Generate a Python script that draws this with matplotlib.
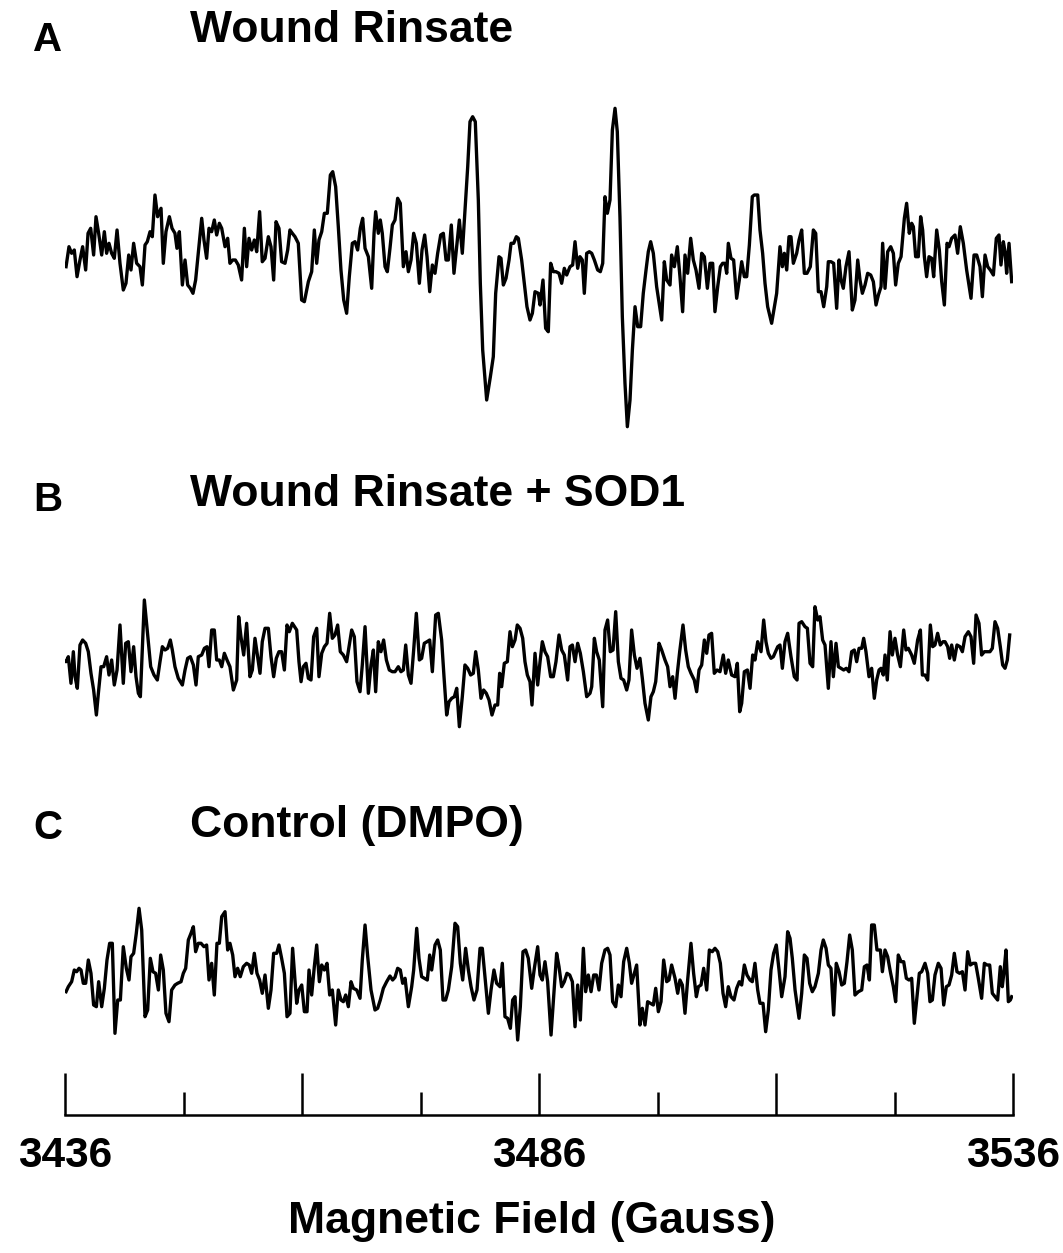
import matplotlib
matplotlib.use("Agg")
import matplotlib.pyplot as plt
from matplotlib.ticker import FixedLocator

plt.rcParams['font.family'] = ['Liberation Sans', 'DejaVu Sans']
plt.rcParams['font.weight'] = 'bold'

# ---------------- data ----------------
panel_letters = ["A", "B", "C"]
panel_titles = ["Wound Rinsate", "Wound Rinsate + SOD1", "Control (DMPO)"]
x_label = "Magnetic Field (Gauss)"
field_min, field_max = 3436, 3536
major_ticks = [3436, 3461, 3486, 3511, 3536]
major_labels = ["3436", "", "3486", "", "3536"]
minor_ticks = [3448.5, 3473.5, 3498.5, 3523.5]

field_a = [3436.11,3436.42,3436.70,3436.98,3437.27,3437.58,3437.86,3438.18,3438.43,3438.71,3439.02,3439.27,3439.55,3439.87,3440.15,3440.39,3440.64,3440.92,3441.20,3441.49,3441.80,3442.15,3442.43,3442.72,3442.96,3443.24,3443.56,3443.91,3444.16,3444.44,3444.68,3444.97,3445.21,3445.49,3445.77,3446.13,3446.37,3446.65,3447.01,3447.29,3447.60,3447.81,3448.06,3448.38,3448.66,3448.94,3449.22,3449.50,3449.78,3450.06,3450.42,3450.66,3450.94,3451.19,3451.47,3451.75,3452.00,3452.28,3452.53,3452.88,3453.16,3453.40,3453.69,3453.97,3454.28,3454.63,3454.92,3455.16,3455.41,3455.69,3455.97,3456.22,3456.53,3456.81,3457.10,3457.45,3457.73,3458.01,3458.26,3458.57,3458.85,3459.21,3459.49,3459.73,3459.98,3460.26,3460.61,3460.96,3461.25,
           3461.67,3462.02,3462.30,3462.55,3462.79,3463.08,3463.36,3463.67,3463.99,3464.24,3464.55,3464.83,3465.11,3465.40,3465.71,3465.99,3466.31,3466.59,3466.87,3467.15,3467.40,3467.65,3468.00,3468.35,3468.60,3468.77,3469.05,3469.26,3469.47,3469.76,3470.00,3470.28,3470.53,3470.81,3471.09,3471.37,3471.69,3471.97,3472.22,3472.50,3472.78,3473.06,3473.38,3473.66,3473.94,3474.19,3474.47,3474.75,3475.03,3475.31,3475.63,3475.91,3476.19,3476.44,3476.75,3477.03,3477.32,3477.60,3477.91,3478.19,3478.48,3478.72,3479.00,3479.28,3479.60,3479.81,3480.06,3480.48,3480.87,3481.18,3481.43,3481.78,3481.99,3482.24,3482.52,3482.84,3483.05,3483.33,3483.61,3483.82,3484.17,3484.45,3484.73,3485.05,3485.30,
           3485.58,3485.93,3486.11,3486.42,3486.70,3486.98,3487.23,3487.51,3487.79,3488.11,3488.39,3488.67,3488.92,3489.27,3489.55,3489.80,3490.08,3490.32,3490.57,3490.78,3491.03,3491.31,3491.56,3491.84,3492.19,3492.47,3492.72,3492.96,3493.21,3493.49,3493.74,3494.02,3494.26,3494.54,3494.79,3495.07,3495.32,3495.60,3495.85,3496.13,3496.41,3496.72,3497.00,3497.29,3497.53,3497.78,3498.06,3498.41,3498.94,3499.22,3499.47,3499.82,3499.99,3500.28,3500.59,3500.87,3501.15,3501.40,3501.68,3502.00,3502.28,3502.56,3502.88,3503.16,3503.44,3503.76,3504.04,3504.32,3504.56,3504.85,3505.13,3505.37,3505.62,3505.80,3505.97,3506.25,3506.53,3506.85,3507.13,3507.38,3507.66,3507.91,3508.19,3508.50,3508.71,3509.07,3509.31,3509.59,3509.84,3510.12,3510.54,
           3511.07,3511.42,3511.67,3511.88,3512.13,3512.37,3512.58,3512.83,3513.18,3513.43,3513.71,3513.99,3514.27,3514.62,3514.94,3515.19,3515.47,3515.75,3516.03,3516.35,3516.52,3516.80,3517.08,3517.40,3517.65,3517.86,3518.10,3518.38,3518.70,3519.05,3519.33,3519.62,3519.86,3520.11,3520.39,3520.67,3520.99,3521.27,3521.55,3521.80,3522.08,3522.25,3522.50,3522.78,3523.10,3523.38,3523.62,3523.90,3524.19,3524.54,3524.78,3525.06,3525.31,3525.49,3525.73,3526.01,3526.26,3526.47,3526.65,3526.89,3527.14,3527.42,3527.63,3527.95,3528.23,3528.48,3528.76,3529.04,3529.25,3529.53,3529.88,3530.16,3530.44,3530.76,3531.11,3531.57,3531.89,3532.17,3532.52,3532.77,3533.05,3533.33,3533.61,3533.93,3534.24,3534.52,3534.73,3534.98,3535.16,3535.33,3535.58,3535.86]
int_a = [-6.7,13.3,6.7,10,-16.7,0,13.3,-10,26.7,31.7,5,43.3,26.7,5,28.3,6.7,16.7,6.7,1.7,30,-3.3,-30,-23.3,5,-10,16.7,-3.3,-6.7,-25,15,18.3,28.3,23.3,65,43.3,51.7,-3.3,28.3,43.3,31.7,26.7,11.7,28.3,-25,0,-25,-28.3,-33.3,-20,6.7,41.7,20,1.7,31.7,28.3,40,25,36.7,31.7,13.3,21.7,-3.3,0,0,-5,-20,31.7,-6.7,21.7,10,20,8.3,48.3,-1.7,1.7,23.3,13.3,-20,38.3,31.7,-1.7,-3.3,10,30,26.7,23.3,16.7,-40,-41.7,
         -21.7,-11.7,30,-3.3,20,28.3,46.7,46.7,85,88.3,73.3,33.3,-10,-40,-53.3,-16.7,16.7,18.3,10,31.7,41.7,11.7,3.3,-28.3,26.7,48.3,26.7,40,26.7,-6.7,-11.7,11.7,35,40,61.7,56.7,-6.7,8.3,-11.7,0,26.7,16.7,-23.3,10,25,3.3,-31.7,-5,-13.3,6.7,25,26.7,0,0,35,-13.3,13.3,40,6.7,50,93.3,138.3,143.3,138.3,60,-23.3,-90,-140,-116.7,-96.7,-33.3,3.3,1.7,-25,-18.3,0,16.7,16.7,23.3,21.7,0,-23.3,-46.7,-60,-53.3,
         -31.7,-33.3,-45,-20,-68.3,-71.7,-3.3,-11.7,-11.7,-13.3,-23.3,-8.3,-15,-6.7,-5,18.3,-8.3,3.3,0,-33.3,6.7,8.3,6.7,0,-10,-11.7,-3.3,63.3,46.7,60,130,151.7,128.3,43.3,-56.7,-123.3,-166.7,-140,-90,-46.7,-66.7,-66.7,-33.3,-10,8.3,18.3,6.7,-26.7,-60,-1.7,-20,-25,5,-6.7,13.3,-16.7,-51.7,5,-13.3,21.7,0,-10,-28.3,6.7,3.3,-28.3,-3.3,-3.3,-51.7,-26.7,-6.7,-3.3,-3.3,-13.3,16.7,1.7,0,-38.3,-20,-1.7,-16.7,-16.7,15,63.3,65,65,30,6.7,-23.3,-46.7,-63.3,
         -33.3,13.3,-6.7,6.7,-10,23.3,23.3,-3.3,6.7,20,30,-13.3,-13.3,-6.7,30,26.7,-31.7,-31.7,-46.7,-26.7,-1.7,-1.7,-3.3,-48.3,0,-20,-28.3,-6.7,8.3,-50,-40,0,-20,-33.3,-25,-13.3,-15,-21.7,-45,-35,-26.7,16.7,-28.3,8.3,13.3,6.7,-25,-3.3,3.3,41.7,56.7,26.7,36.7,33.3,3.3,3.3,43.3,30,3.3,-16.7,3.3,1.7,-16.7,30,10,-21.7,-45,16.7,13.3,21.7,25,6.7,33.3,16.7,-10,-38.3,5,5,-6.7,-36.7,5,-6.7,-10,-15,21.7,25,-5,18.3,8.3,-13.3,16.7,-21.7]

field_b = [3435.82,3436.11,3436.35,3436.63,3436.88,3437.06,3437.30,3437.58,3437.86,3438.18,3438.46,3438.74,3439.02,3439.31,3439.52,3439.80,3440.08,3440.39,3440.64,3440.92,3441.20,3441.49,3441.80,3442.15,3442.40,3442.68,3442.96,3443.24,3443.49,3443.74,3443.95,3444.37,3444.72,3445.04,3445.39,3445.74,3446.02,3446.27,3446.55,3446.83,3447.11,3447.32,3447.60,3447.95,3448.38,3448.66,3448.94,3449.22,3449.54,3449.82,3450.06,3450.42,3450.70,3450.98,3451.19,3451.47,3451.75,3452.00,3452.28,3452.53,3452.81,3453.09,3453.40,3453.76,3454.11,3454.32,3454.56,3454.85,3455.16,3455.51,3455.76,3456.04,3456.32,3456.57,3456.81,3457.10,3457.45,3457.73,3458.01,3458.29,3458.57,3458.85,3459.14,3459.42,3459.66,3459.98,
           3460.44,3460.68,3460.90,3461.14,3461.42,3461.67,3461.95,3462.23,3462.55,3462.79,3463.08,3463.36,3463.64,3463.92,3464.20,3464.48,3464.76,3465.04,3465.36,3465.71,3465.96,3466.24,3466.52,3466.80,3467.12,3467.36,3467.65,3468.00,3468.28,3468.53,3468.77,3469.05,3469.33,3469.61,3469.90,3470.21,3470.53,3470.81,3471.16,3471.44,3471.69,3471.94,3472.22,3472.50,3472.78,3473.06,3473.38,3473.62,3473.90,3474.19,3474.47,3474.75,3475.10,3475.38,3475.73,3475.98,3476.26,3476.51,3476.79,3477.07,3477.32,3477.60,3477.91,3478.19,3478.48,3478.79,3479.07,3479.32,3479.60,3479.88,3480.16,3480.44,3480.73,3481.04,3481.36,3481.64,3481.85,3482.06,3482.34,3482.66,3482.94,3483.19,3483.47,3483.71,3484.00,3484.28,3484.52,3484.77,3485.05,3485.26,
           3485.58,3485.86,3486.11,3486.35,3486.63,3486.91,3487.23,3487.51,3487.79,3488.11,3488.39,3488.67,3489.02,3489.27,3489.52,3489.80,3490.08,3490.36,3490.68,3491.03,3491.38,3491.56,3491.84,3492.08,3492.36,3492.72,3492.96,3493.24,3493.52,3493.81,3494.09,3494.37,3494.65,3494.93,3495.25,3495.49,3495.77,3496.06,3496.34,3496.65,3496.90,3497.18,3497.53,3497.81,3498.06,3498.31,3498.66,3498.94,3499.29,3499.57,3499.82,3500.10,3500.35,3500.59,3500.84,3501.19,3501.47,3501.75,3502.03,3502.38,3502.63,3502.88,3503.16,3503.44,3503.69,3503.93,3504.21,3504.49,3504.78,3505.09,3505.44,3505.69,3505.97,3506.32,3506.67,3506.92,3507.17,3507.38,3507.66,3507.98,3508.26,3508.54,3508.78,3509.07,3509.42,3509.70,3509.94,3510.19,3510.47,3510.72,
           3511.18,3511.42,3511.67,3511.95,3512.23,3512.58,3512.93,3513.22,3513.43,3513.71,3514.06,3514.31,3514.59,3514.87,3515.11,3515.40,3515.64,3515.92,3516.17,3516.52,3516.80,3517.05,3517.33,3517.58,3517.86,3518.14,3518.42,3518.70,3518.98,3519.26,3519.51,3519.76,3520.04,3520.25,3520.49,3520.81,3521.09,3521.37,3521.62,3521.87,3522.08,3522.32,3522.50,3522.74,3523.03,3523.27,3523.55,3523.83,3524.12,3524.47,3524.71,3524.96,3525.31,3525.59,3525.94,3526.23,3526.44,3526.72,3527.00,3527.28,3527.53,3527.77,3528.05,3528.33,3528.62,3528.83,3529.11,3529.32,3529.53,3529.81,3530.09,3530.41,3530.66,3530.94,3531.29,3531.57,3531.85,3532.10,3532.41,3532.69,3532.98,3533.26,3533.57,3533.82,3534.10,3534.38,3534.66,3534.91,3535.16,3535.40,3535.65]
int_b = [0,-1.7,3.3,-23.3,8.3,-16.7,-28.3,15,20,16.7,8.3,-13.3,-30,-55,-33.3,-6.7,-6.7,3.3,-15,0,-25,-10,35,-23.3,16.7,18.3,-11.7,13.3,-16.7,-33.3,-36.7,60,25,-6.7,-15,-20,-1.7,13.3,10,11.7,20,10,-6.7,-18.3,-25,-10,1.7,3.3,-5,-25,3.3,5,11.7,13.3,-6.7,30,30,0,0,-6.7,6.7,0,-6.7,-30,-20,43.3,23.3,5,36.7,-16.7,-10,21.7,3.3,-13.3,18.3,31.7,31.7,3.3,-16.7,1.7,8.3,8.3,-10,35,28.3,36.7,
         30,-1.7,-21.7,-6.7,-3.3,-18.3,-20,23.3,31.7,-16.7,6.7,13.3,16.7,46.7,21.7,25,35,8.3,5,-1.7,13.3,30,23.3,-21.7,-31.7,-5,33.3,-33.3,-5,10,-31.7,18.3,8.3,20,0,-10,-11.7,-11.7,-6.7,-11.7,-10,15,-15,-23.3,10,46.7,0,1.7,16.7,18.3,20,-11.7,45,46.7,20,-16.7,-55,-41.7,-38.3,-36.7,-28.3,-66.7,-36.7,-5,-8.3,-15,-13.3,8.3,-10,-38.3,-30,-33.3,-40,-55,-45,-45,-13.3,-26.7,-3.3,-1.7,28.3,13.3,20,35,31.7,21.7,-1.7,-15,-21.7,-45,
         6.7,-25,-1.7,18.3,8.3,3.3,-16.7,-16.7,-1.7,25,10,5,-20,13.3,15,-1.7,16.7,6.7,-11.7,-36.7,-33.3,-26.7,21.7,8.3,0,-46.7,30,40,8.3,10,48.3,-1.7,-18.3,-20,-30,-20,30,5,-8.3,1.7,-18.3,-43.3,-60,-36.7,-31.7,-21.7,16.7,10,0,-6.7,-26.7,-16.7,-38.3,-13.3,8.3,35,10,-6.7,-13.3,-20,-31.7,-10,-5,20,6.7,25,26.7,-13.3,-10,-11.7,5,-13.3,0,-15,-16.7,-3.3,-51.7,-43.3,-11.7,-10,-28.3,5,0,18.3,8.3,40,18.3,6.7,1.7,3.3,
         13.3,15,-8.3,18.3,26.7,3.3,-16.7,-20,36.7,38.3,33.3,31.7,-3.3,-6.7,53.3,40,43.3,20,15,-28.3,18.3,-16.7,16.7,-6.7,-8.3,-10,-8.3,-11.7,8.3,10,-1.7,11.7,11.7,21.7,8.3,-16.7,-8.3,-38.3,-20,-10,-8.3,-15,5,-20,28.3,5,21.7,5,-6.7,30,10,11.7,5,-3.3,20,30,-15,-15,-20,35,13.3,15,26.7,15,18.3,18.3,13.3,1.7,15,0,15,13.3,8.3,23.3,28.3,23.3,-3.3,45,36.7,5,8.3,8.3,8.3,11.7,38.3,31.7,13.3,-5,-8.3,0,25]

field_c = [3436.11,3436.35,3436.70,3436.98,3437.23,3437.48,3437.69,3437.93,3438.18,3438.46,3438.74,3439.02,3439.31,3439.55,3439.87,3440.15,3440.43,3440.71,3440.99,3441.27,3441.56,3441.84,3442.15,3442.47,3442.75,3442.96,3443.24,3443.52,3443.81,3444.09,3444.44,3444.72,3445.00,3445.28,3445.56,3445.85,3446.09,3446.37,3446.65,3446.97,3447.25,3447.60,3447.88,3448.24,3448.48,3448.73,3449.01,3449.29,3449.54,3449.78,3450.06,3450.35,3450.66,3450.94,3451.19,3451.47,3451.75,3452.03,3452.28,3452.53,3452.88,3453.16,3453.40,3453.69,3453.93,3454.21,3454.49,3454.81,3455.16,3455.44,3455.69,3455.97,3456.25,3456.53,3456.81,3457.10,3457.45,3457.73,3458.01,3458.33,3458.57,3458.85,3459.14,3459.42,3459.73,3460.01,
           3460.44,3460.68,3460.97,3461.25,3461.53,3461.74,3462.02,3462.30,3462.55,3462.83,3463.08,3463.36,3463.64,3463.92,3464.20,3464.55,3464.83,3465.11,3465.36,3465.61,3465.89,3466.17,3466.42,3466.77,3467.12,3467.36,3467.65,3467.93,3468.28,3468.70,3468.98,3469.26,3469.58,3469.93,3470.28,3470.56,3470.81,3471.09,3471.37,3471.62,3471.87,3472.22,3472.57,3472.78,3473.10,3473.34,3473.62,3473.90,3474.22,3474.47,3474.68,3475.03,3475.31,3475.59,3475.87,3476.15,3476.44,3476.79,3477.14,3477.42,3477.70,3477.95,3478.26,3478.55,3478.83,3479.14,3479.46,3479.78,3480.02,3480.30,3480.66,3480.94,3481.25,3481.53,3481.89,3482.13,3482.41,3482.69,3482.98,3483.22,3483.47,3483.75,3484.03,3484.31,3484.59,3484.87,3485.23,3485.51,
           3485.86,3486.11,3486.35,3486.63,3486.91,3487.27,3487.55,3487.86,3488.11,3488.39,3488.67,3488.95,3489.24,3489.52,3489.80,3490.08,3490.36,3490.68,3490.92,3491.20,3491.49,3491.77,3492.05,3492.33,3492.61,3492.96,3493.24,3493.49,3493.77,3494.09,3494.37,3494.65,3494.93,3495.25,3495.53,3495.77,3496.06,3496.30,3496.65,3496.90,3497.18,3497.46,3497.74,3498.06,3498.31,3498.59,3498.87,3499.15,3499.47,3499.71,3499.99,3500.35,3500.63,3500.87,3501.12,3501.40,3501.68,3502.03,3502.31,3502.60,3502.81,3503.09,3503.37,3503.69,3503.97,3504.28,3504.56,3504.85,3505.13,3505.41,3505.69,3505.97,3506.25,3506.57,3506.85,3507.13,3507.38,3507.66,3507.94,3508.26,3508.50,3508.78,3509.07,3509.31,3509.63,3509.91,3510.19,3510.47,3510.75,3511.03,3511.32,3511.60,
           3511.95,3512.23,3512.48,3512.72,3513.01,3513.43,3513.71,3513.99,3514.27,3514.55,3514.83,3515.11,3515.47,3515.75,3515.99,3516.28,3516.52,3516.80,3517.08,3517.36,3517.65,3517.93,3518.21,3518.49,3518.77,3519.05,3519.33,3519.69,3520.04,3520.32,3520.60,3520.85,3521.09,3521.37,3521.65,3522.01,3522.22,3522.50,3522.78,3523.06,3523.38,3523.62,3523.90,3524.19,3524.47,3524.75,3525.03,3525.31,3525.59,3525.87,3526.12,3526.37,3526.72,3527.00,3527.24,3527.49,3527.77,3528.12,3528.41,3528.69,3528.97,3529.25,3529.53,3529.81,3530.09,3530.37,3530.66,3530.94,3531.22,3531.50,3531.78,3532.06,3532.34,3532.69,3532.98,3533.26,3533.54,3533.82,3534.10,3534.38,3534.66,3534.87,3535.05,3535.26,3535.51,3535.72,3535.86]
int_c = [-11.7,-6.7,-1.7,10,8.3,11.7,10,-3.3,-3.3,20,6.7,-25,-26.7,-1.7,-26.7,-8.3,20,36.7,36.7,-53.3,-20,-20,33.3,11.7,0,23.3,26.7,46.7,71.7,50,-36.7,-30,21.7,8.3,6.7,-10,25,10,-33.3,-41.7,-10,-5,-3.3,-1.7,6.7,11.7,40,46.7,53.3,28.3,36.7,36.7,33.3,35,0,16.7,-15,36.7,36.7,63.3,68.3,30,36.7,25,3.3,11.7,3.3,13.3,16.7,15,6.7,26.7,6.7,0,-13.3,5,-28.3,-10,26.7,26.7,35,21.7,6.7,-36.7,-33.3,31.7,
         -23.3,-10,-5,-31.7,-31.7,10,-15,13.3,35,-1.7,15,10,16.7,-15,-10,-45,-10,-20,-21.7,-15,-26.7,-1.7,-8.3,-10,-18.3,20,55,23.3,-10,-30,-28.3,-20,-8.3,-1.7,4,0,2.7,11.7,10,-3.3,1.7,-26.7,-6.7,10,51.7,21.7,3.3,1.7,0,25,10,35,40,30,-20,-20,-10,13.3,56.7,53.3,16.7,0,31.7,10,-6.7,-20,-10,31.7,31.7,3.3,-33.3,-10,10,-3.3,-6.7,16.7,-36.7,-38.3,-48.3,-20,-16.7,-60,-26.7,28.3,30,21.7,-8.3,11.7,
         33.3,5,0,18.3,-1.7,-55,-16.7,26.7,13.3,-6.7,-1.7,6.7,5,-1.7,-46.7,-5,-40,31.7,-11.7,5,-11.7,5,5,-10,16.7,30,31.7,25,-21.7,-26.7,-5,-16.7,18.3,31.7,16.7,-3.3,6.7,15,-45,-28.3,-45,-21.7,-23.3,-25,-8.3,-31.7,-21.7,20,-1.7,0,15,1.7,-13.3,0,-5,-33.3,0,36.7,6.7,-16.7,-6.7,-5,11.7,-10,30,28.3,31.7,28.3,16.7,-13.3,-26.7,-6.7,-16.7,-20,-8.3,-1.7,-5,15,5,0,-1.7,16.7,-10,-23.3,-23.3,-51.7,-30,10,26.7,35,10,-16.7,
         3.3,48.3,41.7,21.7,-10,-38.3,-13.3,25,21.7,-3.3,-11.7,-6.7,6.7,30,40,31.7,15,11.7,-35,16.7,8.3,-5,-3.3,18.3,45,30,-15,-11.7,-10,13.3,15,0,55,55,30,30,8.3,30,23.3,8.3,-6.7,-21.7,25,18.3,18.3,1.7,0,1.7,-43.3,-16.7,6.7,8.3,16.7,6.7,-21.7,-20,5,16.7,11.7,-25,-6.7,-5,5,26.7,8.3,6.7,8.3,-10,28.3,15,16.7,16.7,1.7,-18.3,16.7,15,15,-13.3,-16.7,-20,13.3,-6.7,8.3,30,-21.7,-20,-16.7]

# ---------------- layout ----------------
W, H = 1063, 1253
fig = plt.figure(figsize=(W / 100, H / 100), dpi=100)

def fx(px):
    return px / W

def fy(py):
    return 1 - py / H

left, width = fx(65), 948 / W
# (top px, bottom px, baseline px) for each trace panel
panels = [(90, 440, 260), (580, 740, 660), (890, 1060, 980)]
traces = [(field_a, int_a), (field_b, int_b), (field_c, int_c)]

for (top, bot, base), (fld, inten) in zip(panels, traces):
    ax = fig.add_axes([left, fy(bot), width, (bot - top) / H])
    ax.plot(fld, inten, color="black", lw=2.4, solid_joinstyle="round")
    ax.set_xlim(field_min, field_max)
    ax.set_ylim(base - bot, base - top)
    ax.axis("off")

# panel letters and titles
letter_y = [40, 500, 828]
title_y = [30, 495, 825]
for letter, title, ly, ty in zip(panel_letters, panel_titles, letter_y, title_y):
    fig.text(fx(33), fy(ly), letter, fontsize=29, fontweight="bold", ha="left", va="center")
    fig.text(fx(190), fy(ty), title, fontsize=32, fontweight="bold", ha="left", va="center")

# field axis
axx = fig.add_axes([left, fy(1115), width, 60 / H])
axx.set_xlim(field_min, field_max)
axx.set_ylim(0, 1)
for s in ["top", "left", "right"]:
    axx.spines[s].set_visible(False)
axx.spines["bottom"].set_linewidth(1.8)
axx.set_yticks([])
axx.xaxis.set_major_locator(FixedLocator(major_ticks))
axx.set_xticklabels(major_labels)
axx.xaxis.set_minor_locator(FixedLocator(minor_ticks))
axx.tick_params(axis="x", which="major", direction="in", length=30, width=1.8,
                labelsize=30.5, pad=15)
axx.tick_params(axis="x", which="minor", direction="in", length=16.5, width=1.8)
for lbl in axx.get_xticklabels():
    lbl.set_fontweight("bold")
axx.patch.set_alpha(0)

fig.text(fx(532), fy(1222), x_label, fontsize=32, fontweight="bold", ha="center", va="center")

fig.savefig("out.png", dpi=100)
